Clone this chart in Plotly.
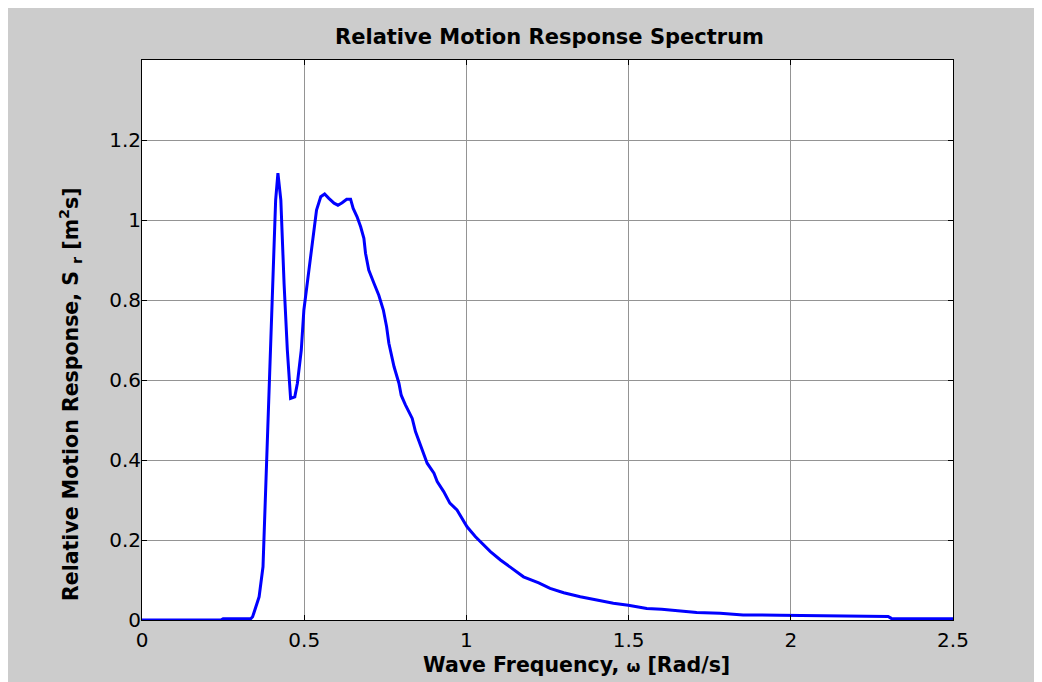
import plotly.graph_objects as go

# Data
omega = [0.0, 0.10, 0.20, 0.243, 0.25, 0.30, 0.335, 0.341, 0.361, 0.373, 0.382, 0.392, 0.402,
         0.412, 0.419, 0.428, 0.438, 0.448, 0.458, 0.471, 0.479, 0.491, 0.499, 0.515,
         0.528, 0.538, 0.551, 0.563, 0.576, 0.592, 0.604, 0.617, 0.631, 0.643, 0.651,
         0.663, 0.674, 0.684, 0.689, 0.699, 0.715, 0.730, 0.744, 0.754, 0.761, 0.777,
         0.792, 0.799, 0.812, 0.833, 0.843, 0.858, 0.874, 0.879, 0.900, 0.910, 0.930,
         0.949, 0.971, 0.987, 1.002, 1.028, 1.050, 1.074, 1.105, 1.140, 1.176, 1.223,
         1.258, 1.300, 1.351, 1.402, 1.453, 1.499, 1.556, 1.602, 1.658, 1.710, 1.782,
         1.853, 1.966, 2.05, 2.15, 2.30, 2.31, 2.40, 2.50]
response = [0.0, 0.0, 0.0, 0.0, 0.003, 0.003, 0.003, 0.008, 0.058, 0.133, 0.342, 0.592, 0.842,
            1.05, 1.117, 1.05, 0.84, 0.675, 0.554, 0.558, 0.592, 0.675, 0.775, 0.883,
            0.958, 1.025, 1.058, 1.065, 1.054, 1.042, 1.037, 1.043, 1.052, 1.052, 1.029,
            1.008, 0.983, 0.954, 0.917, 0.875, 0.842, 0.812, 0.775, 0.733, 0.692, 0.633,
            0.592, 0.562, 0.538, 0.504, 0.471, 0.438, 0.408, 0.392, 0.367, 0.346, 0.321,
            0.292, 0.275, 0.254, 0.233, 0.208, 0.190, 0.171, 0.150, 0.129, 0.108, 0.093,
            0.079, 0.068, 0.058, 0.050, 0.042, 0.037, 0.029, 0.027, 0.023, 0.019, 0.017,
            0.0125, 0.012, 0.011, 0.010, 0.009, 0.004, 0.0035, 0.003]

x_ticks = [0, 0.5, 1, 1.5, 2, 2.5]
x_tick_labels = ["0", "0.5", "1", "1.5", "2", "2.5"]
y_ticks = [0, 0.2, 0.4, 0.6, 0.8, 1.0, 1.2]
y_tick_labels = ["0", "0.2", "0.4", "0.6", "0.8", "1", "1.2"]

title_text = "<b>Relative Motion Response Spectrum</b>"
x_title = "<b>Wave Frequency, <span style='font-size:16px'>ω</span> [Rad/s]</b>"
y_title = "<b>Relative Motion Response, S <sub>r</sub> [m<sup>2</sup>s]</b>"

# page body has an 8px margin; size the figure so it ends at the window edge
W, H = 1034, 674
L, R, T, B = 134, 89, 52, 62
PW, PH = W - L - R, H - T - B

font = "DejaVu Sans, Liberation Sans, Arial, sans-serif"

fig = go.Figure()
fig.add_trace(go.Scatter(x=omega, y=response, mode="lines",
                         line=dict(color="#0000ff", width=3), showlegend=False))

axis_common = dict(showline=True, linecolor="black", linewidth=1, mirror="allticks",
                   ticks="inside", ticklen=5, tickcolor="black", showgrid=True,
                   gridcolor="#949494", gridwidth=1, zeroline=False,
                   tickfont=dict(family=font, size=20, color="black"))

fig.update_xaxes(range=[0, 2.5], tickvals=x_ticks, ticktext=x_tick_labels,
                 ticklabelstandoff=2, **axis_common)
fig.update_yaxes(range=[0, 1.4], tickvals=y_ticks, ticktext=y_tick_labels,
                 ticklabelstandoff=-4, **axis_common)

# axis labels placed as annotations (positions in figure pixels converted to paper units)
fig.add_annotation(text=x_title, xref="paper", yref="paper",
                   x=(568 - L) / PW, y=(T + PH - 657) / PH, xanchor="center", yanchor="middle",
                   showarrow=False, font=dict(family=font, size=20.5, color="black"))
fig.add_annotation(text=y_title, xref="paper", yref="paper", textangle=-90,
                   x=(62 - L) / PW, y=(T + PH - 386) / PH, xanchor="center", yanchor="middle",
                   showarrow=False, font=dict(family=font, size=20.5, color="black"))

fig.update_layout(
    width=W, height=H,
    margin=dict(l=L, r=R, t=T, b=B),
    paper_bgcolor="#cccccc", plot_bgcolor="white",
    title=dict(text=title_text, x=541.5 / W, xanchor="center", y=1 - 29 / H, yanchor="middle",
               font=dict(family=font, size=21, color="black")),
)

fig.write_html("out.html")
